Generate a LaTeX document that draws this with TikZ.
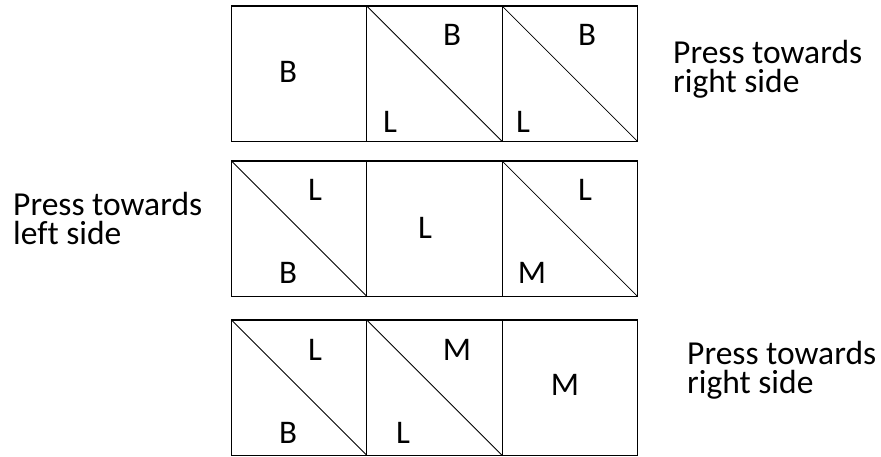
\documentclass[tikz,border=0pt]{standalone}
\usepackage{fontspec}
\setmainfont[Ligatures=NoCommon]{Carlito}
\begin{document}
\begin{tikzpicture}[x=1pt, y=-1pt,
        patch/.style={draw, line width=1.2pt, minimum size=135.3pt, inner sep=0pt, outer sep=0pt, anchor=north west},
        seam/.style={line width=0.8pt},
        fab/.style={font=\fontsize{33}{33}\selectfont, inner sep=0pt},
        note/.style={font=\fontsize{33.5}{29}\selectfont, align=left, inner sep=0pt, anchor=base west},
    ]
        \useasboundingbox[fill=white] (0,0) rectangle (881,457);

        % row 1
        \node[patch] (p11) at (231.5,6) {};
        \node[patch] (p12) at (366.8,6) {};
        \node[patch] (p13) at (502.1,6) {};
        % row 2
        \node[patch] (p21) at (231.5,161) {};
        \node[patch] (p22) at (366.8,161) {};
        \node[patch] (p23) at (502.1,161) {};
        % row 3
        \node[patch] (p31) at (231.5,320) {};
        \node[patch] (p32) at (366.8,320) {};
        \node[patch] (p33) at (502.1,320) {};

        % half-square triangles
        \foreach \p in {p12, p13, p21, p23, p31, p32}
            \draw[seam] (\p.north west) -- (\p.south east);

        % fabrics
        \node[fab] (f11)  at (288,72)  {B};
        \node[fab] (f12a) at (452,35)  {B};
        \node[fab] (f12b) at (390,122) {L};
        \node[fab] (f13a) at (587,35)  {B};
        \node[fab] (f13b) at (523,122) {L};

        \node[fab] (f21a) at (315,190) {L};
        \node[fab] (f21b) at (288,273) {B};
        \node[fab] (f22)  at (425,228) {L};
        \node[fab] (f23a) at (585,190) {L};
        \node[fab] (f23b) at (532,273) {M};

        \node[fab] (f31a) at (315,350) {L};
        \node[fab] (f31b) at (288,433) {B};
        \node[fab] (f32a) at (457,350) {M};
        \node[fab] (f32b) at (403,433) {L};
        \node[fab] (f33)  at (565,385) {M};

        % pressing notes (anchored on the last line)
        \node[note] (n1) at (673,93)  {Press towards\\right side};
        \node[note] (n2) at (13,245)  {Press towards\\left side};
        \node[note] (n3) at (687,393) {Press towards\\right side};
    \end{tikzpicture}
\end{document}
